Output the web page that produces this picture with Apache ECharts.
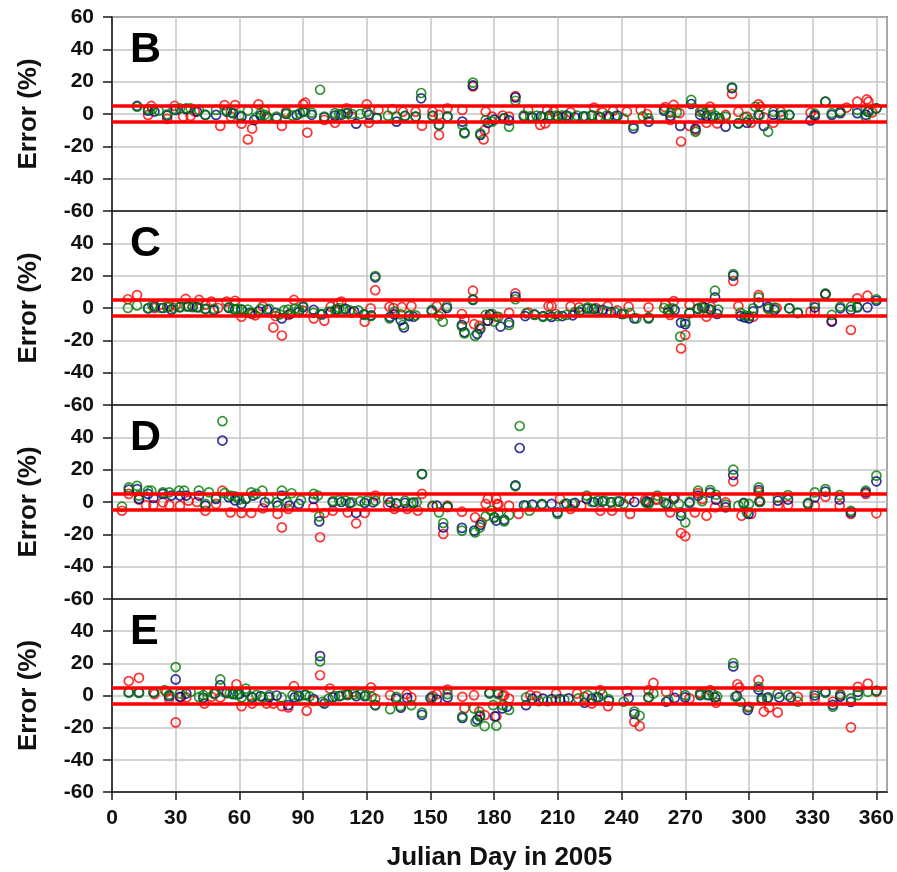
<!DOCTYPE html>
<html>
<head>
<meta charset="utf-8">
<script src="https://cdn.jsdelivr.net/npm/echarts@6/dist/echarts.min.js"></script>
<style>
  html, body { margin: 0; padding: 0; background: #fff; }
  #chart { width: 897px; height: 872px; }
</style>
</head>
<body>
<div id="chart"></div>
<script>
// Relative error (%) per Julian day, three comparison series per panel.
const panelLetters = ['B', 'C', 'D', 'E'];
const xTickStep = 30;
const yTicks = [-60, -40, -20, 0, 20, 40, 60];
const toleranceBand = [5, -5];

// ---- Panel B ----
const bRed = [[17,-0.6],[18.5,5],[26,-3],[29.5,5],[33.5,-1.6],[37,-1.2],[39,1.5],[51,-7.4],[53,5.5],[56,-1.6],[58,5.5],[61,-6],[64,-15.7],[66,-9],[69,6],[72,2],[80,-7.4],[82,1.5],[90,6],[91,7],[92,-11.5],[100,-3.7],[105,-5.4],[110.5,3.5],[113,-1.6],[120,6],[121,-5.4],[125.5,2.5],[132,3],[137,1.4],[143,1.4],[146,-7.2],[151,1.4],[154,-0.6],[154,-13],[158,3.5],[165,2.5],[170,17],[175,-15.7],[176,1.4],[175.5,-10],[179,-1.6],
  [184,-1],[187,-1.6],[190,11],[196,2.5],[201.7,-6.8],[204,-5.8],[205,2.5],[208,1.5],[212,-2],[216,1],[227,4],[231,1],[236,2],[242.5,1.4],[249,2.5],[252,0],[260.5,4.3],[263,-3.7],[264.5,5.6],[267.3,0.5],[268,-17],[272,-7.4],[274.8,-10],[278,2],[281.7,4.6],[280,-5.4],[285,-5.8],[289,-0.6],[292,12.4],[295,1.4],[299,-1.6],[301,-5.4],[304.5,6],[305.3,4.5],[307,-2],[311.5,-5.4],[315,1.4],[329,0.8],[331,-1.6],[343,1.4],[346,4],[351,7.6],[355.5,9],[356.3,7.6],[358,1]];
const bBlue = [[11.8,5],[17,2],[20,1.5],[26,-1],[30,2.5],[35,3],[40,1.5],[44,-0.6],[49,-0.6],[54,1.5],[57,0.5],[61,-1.5],[67,-3.7],[70,-1],[73,-2],[77.5,-2.7],[82,0],[87,-0.6],[90,1.5],[94,-0.5],[100,-2],[105,-1],[108,-0.5],[111,0.5],[115,-6],[121,-0.5],[124.7,-2.5],[134,-4.7],[138,-1.2],[143,-1.6],[145.6,9.7],[151,-1.2],[154,-6.8],[158,-1.6],[165,-4.7],[166,-11.5],[170,17.7],[173.5,-13],[177,-5.5],[180,-3.5],
  [184.7,-2.7],[187,-4],[190,10.3],[194,-1.5],[198,-2],[202,-1.5],[206,-1],[210,-1.5],[214,-1],[218,-2],[222,-1.5],[226,-1],[230,-2],[234,-1.5],[238,-1],[245.6,-8.9],[252.7,-4.7],[260,2],[263,-1.2],[267.6,-7.4],[272.8,6.2],[274.8,-9],[277,-0.5],[280,-1.2],[283,-2],[286,-2.5],[289,-7.8],[292,16],[295,-5.8],[299,-5.4],[304.5,-0.6],[307,-7.4],[311.5,-0.5],[315,-1],[319,-0.6],[329,-4],[331,-0.8],[336,7.6],[339,-0.6],[343,0.5],[351,0.5],[355,-0.5],[356,1.4],[360,3.5]];
const bGreen = [[11.8,4.5],[17,3],[19,3],[22,2],[26,-0.2],[29,3],[32,3.5],[35,3.5],[37,3.5],[41,2.5],[44,-0.6],[49,2.5],[54,2],[56,1],[60,-1],[64,2],[68,-2],[70,0.5],[72,-0.5],[73,-1.6],[77.5,-1.6],[82,0.5],[85,-1],[88.5,0.5],[91,1.5],[94,0.8],[98,15],[100,-1.6],[105,0.5],[107,0],[110,0.5],[113,0],[117,0],[120,1.3],[124.7,-2.7],[130,-1],[134,-1.6],[138,-1.2],[143,-1.6],[145.6,13],[151,-1.2],[154,-6.8],[158,-1.6],[165,-6.8],[166,-12],[170,19.4],[173.5,-12],[176,-3.7],[179,-4.7],
  [184.7,-2.7],[187,-7.8],[190,8.2],[194,-0.8],[197,-1.5],[200,-1],[203,-2],[206,-1.5],[209,-1],[212,-0.8],[215,-1.5],[219,-1],[223,-1.5],[226,-0.8],[229,-1.5],[233,-1],[237,-1.5],[241,-3],[245.6,-7.4],[250,-1.5],[252.7,-2.7],[260,3],[263,0.8],[266,1],[272.8,8.7],[274.8,-11],[277,1.5],[279,0.5],[282,2],[284,-1],[286,-2.7],[289,-1.6],[292,16.5],[295,-5.8],[298,-2],[300,-3.7],[303,4.5],[305,-0.8],[309,-11],[311.5,1.4],[316,-0.6],[319,-0.6],[331,0.2],[336,7.6],[339,0.5],[343,1.4],[351,2.5],[355,-2],[356.5,1.4],[360,3.5]];

// ---- Panel C ----
const cRed = [[7.5,5.4],[11.8,8],[20,0],[23,2],[27,1],[30,1.5],[34.7,5.6],[38,1],[41,5],[44,2],[46.8,4],[50,0],[54,4],[58,4.5],[61,-5.4],[66,-3.7],[67.5,-4.5],[71,1],[76,-12],[77,-5],[80,-17],[83,-4.3],[85.7,5],[90,-1.6],[95,-6.4],[100,-7.8],[103,0.8],[106.6,3],[108,4],[113,-2.8],[119,-8.5],[121.8,-0.2],[124,11],[130.7,0.8],[132.5,0],[136.5,0.5],[141,1.2],[153,1.2],[155,-3.7],[164.8,-3.7],[166,-7],[170,10.7],[170.6,-10],[173,-11],[177,-7.8],
  [178,-4.3],[181,-5.4],[187,-3],[190,9],[196,-2.8],[205.6,1.2],[207,1.2],[209,-3.7],[216,1],[220,0.4],[228,0],[233.5,1.2],[238,-1.5],[243.3,0.8],[252.7,0.4],[260.5,2],[262.9,-4.3],[264.6,4.3],[268,-25],[270,-16.7],[272,2],[278,1],[280,-5.4],[282,0.8],[292.6,16.7],[295,1.2],[302,-5.4],[304.6,8],[309,-0.2],[313,0],[329,-2.3],[331,-2.3],[336,8.5],[339,-8],[348,-13.6],[351,6],[355.8,7.6]];
const cBlue = [[17,-0.3],[20,1],[24,0],[28,-1],[32,0.5],[36,1],[40,0.5],[44,-0.5],[48,-1.5],[55,0],[58,-1],[61,-1],[65,-3],[69,-2],[73,-1],[77,-3],[80,-6.4],[84,-3.5],[88,-2.5],[90,0.5],[95,-1.2],[99,-4],[103,-2.5],[106,-1],[110,-0.5],[114,-2],[118.6,-4],[122,-4.5],[124,19],[131,-5.5],[133,-4],[136,-7.5],[137.5,-12],[140,-5],[142,-5.4],[150.6,-2],[157.7,0],[164.8,-10.5],[166,-15],[170,5],[172,-16],[173.4,-13],[177,-7.8],
  [178,-4],[183,-11.5],[187,-9],[190,7],[194.6,-5],[199,-4],[203,-5],[207,-5.5],[212,-5],[217,-4.5],[220,-2.5],[224,-0.4],[227,-0.6],[231,-1.2],[235,-2.5],[240,-3.7],[246,-6.4],[252.7,-6.4],[262,-2.5],[265,-1.2],[268,-9],[270,-10],[272,-3.2],[276,-0.6],[279,0.4],[282,-1.2],[284,6.6],[285,-3.7],[292.6,20],[296,-5],[298,-5.8],[300,-6.4],[302,-2],[304.6,3.3],[309,0.8],[312,-1.2],[319,-0.2],[323,-3],[331,0.4],[336,8.5],[339,-8.5],[343,-0.2],[348,-1.2],[351,0.4],[355.8,0.4],[360,4.5]];
const cGreen = [[7.5,0],[11.8,1.6],[17,0],[19,1.5],[23,0],[26,0.5],[29,0],[32,0.5],[35,1],[38,0.5],[41,0.3],[44,-0.8],[48,-0.5],[55,0.5],[57,-0.5],[59,-0.5],[61,-1],[64,-1],[66,-3],[70,-0.5],[74,-0.5],[79,-4],[81,-1.5],[83,-1],[86,-0.5],[88,-1],[90,1.2],[95,-3],[98,-3.7],[102,-2.3],[105,-1.2],[107,0],[109,-1],[112,-1.5],[116,-1.5],[119,-4.3],[122,-5],[124,19.8],[130.7,-6.4],[133,-2.3],[136,-4],[137,-10.5],[140,-4.5],[143,-4.5],[150.6,-1.2],[154,-5],[155.8,-8.5],[157.7,1.2],[164.8,-11.5],[166,-15.7],[170,5.4],[171,-17.3],[173.4,-12.4],[176,-4.3],
  [179,-3.7],[180,-8.5],[182,-5.5],[187,-10.5],[190,5.4],[195,-3.3],[199,-4.3],[203,-5.5],[206,-4.5],[210,-5],[214,-4.3],[218,-2.5],[221,-1.2],[224,0.4],[226,-0.5],[229,-1.2],[233,-2],[237,-2.5],[241,-3.7],[244,-3.2],[247,-6.4],[252.7,-5.8],[260,0],[262,-1],[264,-0.2],[267.6,-17.7],[270,-8.5],[272,-3],[276,-0.2],[278,0],[281,-0.5],[284,10.7],[285.5,-1],[292.6,21],[296,-3],[298,-4.5],[300,-5],[302,-0.2],[304.6,6.6],[309,-0.5],[312,0.2],[319,-0.2],[323,-3],[331,2.5],[336,9],[339,-4.3],[343,0.8],[348,0.8],[351,0.8],[360,5.4]];

// ---- Panel D ----
const dRed = [[4.7,-5.4],[7.9,5],[12.7,1.5],[16,-1.9],[19.5,-1.9],[24,-0.2],[27,-1.9],[32,-2.3],[36,0.8],[40,0],[44,-5.4],[49,-1.2],[52,7],[55.8,-6.4],[61,-6.8],[65.6,-6.8],[71,-3.9],[78,-7.4],[80,-15.7],[83,-4.3],[94.8,-3.3],[98,-21.8],[100,-6.8],[104,-5.4],[111,-6.4],[115,-13.2],[119,-6.8],[124,4],[130,-1.9],[133,-4.3],[139,-4.3],[144,-5.4],[146,5],[151,-2.7],[156,-19.8],[158,-2.3],[164.8,-6],[171,-9.5],[174,-12.6],[176,-1.2],[177,2],[182,-1.6],
  [181,1.9],[181.5,-1.2],[187,-2.3],[191.5,-7.4],[211,1.9],[216,-4.3],[221,-2.3],[230,-5.4],[235.5,-5.4],[244,-7.4],[243.6,1.9],[251,1],[256,1.5],[257,1.5],[262.9,-6.4],[265,2.9],[268,-19.2],[270,-21.2],[274.5,-6.4],[276,5.5],[280,-8.5],[278,1.9],[284,-3.3],[289,-0.2],[292.6,12.8],[296.5,-8.5],[301,-7.4],[304.6,6],[305,0.8],[313.6,-2.3],[318.4,-1.9],[331,-2.3],[336,3.3],[342.7,-2.3],[348,-7.4],[355,5],[360,-7]];
const dBlue = [[7.9,7.6],[11.8,8],[12.7,1.9],[17,5],[19.5,2.5],[24,5],[28,4],[32,4],[35,4],[41,4],[44,-2.3],[49,1.9],[52,38],[55,3],[58,1],[61,-1.2],[63,1.9],[66.5,4],[72,-0.2],[78,-2.3],[80,4],[83.5,-2.3],[88,-1.2],[95,1.9],[97.6,-12],[104,-0.2],[108,0],[112,-0.6],[115,-6.8],[119,-0.6],[123,-0.2],[131,-0.2],[134,-0.8],[138,-0.6],[142,-0.4],[146,17.3],[153,-2.3],[156,-15.7],[158,-3],[164.8,-16],[170.6,-17.7],[173.5,-14.2],[181,-11.5],
  [180,-9.5],[184.7,-11],[190,10.3],[192,33.4],[194,-2],[198,-1.6],[202.5,-1.6],[207,-1.2],[209.8,-6.4],[214,-1],[218,-0.6],[223.6,1.9],[227,0],[231,0.4],[235,-0.2],[239,0.4],[246,0],[251.6,0.2],[252.7,-0.2],[261,-1.2],[264.5,1.9],[268,-8.5],[272,-0.6],[276,3.9],[281.7,5.8],[284.5,1.4],[289,-3.3],[292.6,16.7],[297.5,-0.6],[299.8,-7.4],[304.6,7.4],[305,0],[313.6,0.8],[318.4,1.5],[327.8,-1.2],[331,2.9],[336,6.4],[342.7,1.5],[348,-6.4],[355,6],[360,12.8]];
const dGreen = [[4.7,-2.9],[7.9,9],[11.8,10],[12.7,3.9],[17,7],[18.5,7],[24,6],[27,6],[31.6,7],[34,7],[40.9,7],[44,-1.2],[45.7,6],[49,3],[52,50],[53,5.5],[56,4],[58,3.5],[60,1.5],[63,1.9],[65.6,6],[68,5],[70.8,7],[74,2],[77.5,-0.2],[80,7],[82.5,-0.2],[84.6,5.4],[89,1.2],[95,5],[97,4],[97.6,-8.9],[104,0.6],[107,1.2],[110,0.8],[113,-0.2],[117,0.6],[120,0.8],[124,0.8],[130,1.9],[134,-1.2],[138,0.8],[141,-0.6],[143.5,-0.2],[146,17.3],[151,-2.3],[154,-6.4],[156,-13],[158,-3],[164.8,-17.7],[171,-18.8],[173.3,-15.7],[176,-8.9],[178.5,-5.4],
  [180,-9.5],[182,-7.4],[184.7,-12],[187,-8],[190,9.7],[192,47],[195,-2.3],[196.6,-5.4],[202.5,-1.2],[209.8,-7.4],[213,-1.5],[217,-1],[223.6,4],[226,0],[229,1],[232,0.8],[235,0],[238,0.4],[241,-1.2],[251.6,-0.6],[252.7,-1.2],[256.8,4],[260,-0.2],[262,-1.2],[267,-1.2],[268,-6.4],[270,-12.6],[272,0.2],[276,7],[278,0.5],[281.7,7.4],[284.5,4.5],[289,-1.6],[292.6,20],[295,-2.3],[297.5,-1.2],[299,-6.4],[300,-1.2],[304.6,9],[305.3,0.2],[313.6,2.9],[318.4,4.3],[327.8,-0.6],[331,6],[336,8],[342.7,4.3],[348,-5.4],[355,7],[360,16.3]];

// ---- Panel E ----
const eRed = [[7.9,9],[12.7,11],[20,0.8],[25.6,2.3],[26.9,-1.9],[30,-16.7],[32.5,-1.2],[35,-1.2],[43.5,-5],[46.9,-0.8],[51,-1.2],[58.6,7],[61,-6.6],[66,-5],[72.8,-5],[76,-5],[80,-6.6],[83,-7.4],[85.7,5.8],[91.7,-9.5],[95,-3.3],[98,12.6],[102.6,4.3],[110.5,1.2],[113.6,2.3],[122,5],[124,-1.9],[131,0.2],[138.8,0.8],[141,-1.2],[151,-0.4],[153,0.8],[158,3.7],[165,-0.8],[166,-8],[170.5,0.2],[173,-10],[175.5,-12.2],[181,-13],[184,-0.4],
  [184.7,0.2],[187,-1.9],[197,0.2],[200,-0.4],[209.2,1.2],[219,1.2],[222.5,-0.8],[226,-5],[230,3.3],[233.6,-6.6],[242.6,2.7],[246,-16.3],[248.5,-19],[252.7,3.3],[255,7.8],[261,2.3],[266,2.3],[272,-1.8],[277,1.6],[281.7,3.3],[284.5,-4.5],[294.5,7],[295.5,5],[300,-7],[304.5,9.5],[307,-10],[309.5,-7.4],[313.5,-10.5],[323,-0.8],[331,-1.8],[339.5,-3.9],[343,0.2],[348,-19.8],[351.3,5.4],[356,7.4],[360,2.3]];
const eBlue = [[7.9,1.9],[12.7,1.9],[19.6,1.9],[26.9,-0.4],[30,10],[32,-0.8],[35,1.2],[43,-1.4],[48.5,1.2],[51,6.4],[54,1.5],[57,0.8],[60,1],[63,2.3],[66,-1.2],[70,-0.4],[74,-1],[77.5,0],[83,-6],[86,-1.2],[88,0],[91,0.4],[95,-2.3],[98,24.5],[100,-5],[104,-1.2],[107,-0.4],[111,0.4],[115,-0.4],[119,-0.4],[124,-6],[133.8,-1.9],[136,-7.6],[139,-1.5],[146,-12],[150,-1.5],[153,-2.5],[158,-1.2],[165,-14],[172,-15],[173.2,-13],[177.8,1.6],
  [180.3,-13],[181.8,1.6],[183.8,-8],[186,-7],[195,-6],[198,-2],[203,-1.9],[207,-2.3],[211,-2.3],[215,-1.8],[222.5,-4.5],[226,-2],[229,-1.2],[234,-3.3],[243.3,-1.6],[246,-11.5],[252.7,-1.2],[261,-3.9],[265,-1.5],[270,-1.2],[277,0.2],[281,0.2],[284,-1.2],[292.6,18.1],[294.3,-0.4],[299.4,-9],[304.5,3.7],[306,-1.8],[309,-1.2],[314.3,-1.2],[319.7,-1.2],[331,0],[336,2.3],[339.5,-5.8],[343,-0.8],[348,-4],[351.3,2.3],[360,2.9]];
const eGreen = [[7.9,1.9],[12.7,1.6],[19.6,1.9],[24.8,3.3],[27,0.5],[30,17.7],[32,1.2],[37,2.3],[41,-1],[43,0.2],[45,2.3],[48,1],[51,10],[53,2],[55.5,1.5],[57,1.2],[59,0.5],[61,-1.2],[63,4.3],[65.6,-0.8],[68,0.4],[71,-1.2],[74,0.2],[79.9,-1.2],[85,0.2],[88,-0.8],[91,0.4],[93,-0.6],[98,21.2],[99.2,-4],[102,-2],[105,-0.4],[108,0],[111,0.4],[114,0.8],[117,0.8],[119.6,0.2],[122.3,-0.8],[124,-6],[131,-8.5],[134,-0.8],[135.8,-6.6],[141,-6],[146,-10.7],[150.6,-1.5],[158,0.8],[165,-13],[170.5,-8],[171.2,-16.3],[173.4,-12.4],[175.5,-19],[177.8,1.2],[179.5,-6],
  [181,-18.8],[181.8,0.8],[184,-6],[187,-9],[195,-1.2],[201,-3.5],[205,-3.5],[209,-2.5],[213,-2.5],[219.6,-1.8],[224,0.2],[228,-1],[231,0.8],[234,-2.3],[241,-3.9],[246,-10],[248.5,-12.6],[252.7,-1.2],[255,1.2],[262,-2.9],[270,0.2],[277,0.8],[280,0.4],[283,0.8],[285,-0.6],[292.6,20.2],[293.5,-0.8],[296,-3.9],[299.4,-7.4],[304.5,5.4],[306,-2.9],[308.5,-1.8],[313.5,1.2],[318.4,0.2],[323,-3.9],[331,1.6],[336,1.6],[339.5,-7],[343,0.8],[348,-1.8],[351.3,0.2],[356,2.3],[360,2.9]];

const panelData = [
  { red: bRed, blue: bBlue, green: bGreen },
  { red: cRed, blue: cBlue, green: cGreen },
  { red: dRed, blue: dBlue, green: dGreen },
  { red: eRed, blue: eBlue, green: eGreen }
];

// ---- Layout and styling ----
const FONT = '"Liberation Sans", Arial, Helvetica, sans-serif';
const COLORS = { red: '#ff0000', blue: '#00007f', green: '#007a00' };
const plotLeft = 112, plotRight = 10, panelTop = 17, panelHeight = 194;
const xMin = 0, xMax = 365, yMin = -60, yMax = 60;

const grids = [], xAxes = [], yAxes = [], series = [], titles = [];

panelLetters.forEach((letter, i) => {
  const isLast = i === panelLetters.length - 1;
  grids.push({
    left: plotLeft, right: plotRight,
    top: panelTop + i * panelHeight, height: panelHeight,
    show: true, borderColor: '#1a1a1a', borderWidth: 1.5,
    backgroundColor: 'transparent'
  });
  xAxes.push({
    gridIndex: i, type: 'value', min: xMin, max: xMax, interval: xTickStep,
    axisLine: { show: true, onZero: false, lineStyle: { color: '#1a1a1a', width: 1.5 } },
    axisTick: { show: isLast, length: 8, lineStyle: { color: '#1a1a1a', width: 1.5 } },
    axisLabel: {
      show: isLast, showMaxLabel: false, margin: 16,
      fontFamily: FONT, fontWeight: 'bold', fontSize: 21, color: '#111'
    },
    splitLine: { show: true, lineStyle: { color: '#c6c6c6', width: 1.5 } },
    name: isLast ? 'Julian Day in 2005' : '',
    nameLocation: 'middle', nameGap: 53,
    nameTextStyle: { fontFamily: FONT, fontWeight: 'bold', fontSize: 26, color: '#111' }
  });
  yAxes.push({
    gridIndex: i, type: 'value', min: yMin, max: yMax, interval: 20,
    axisLine: { show: true, onZero: false, lineStyle: { color: '#1a1a1a', width: 1.5 } },
    axisTick: { show: true, length: 9, lineStyle: { color: '#1a1a1a', width: 1.5 } },
    axisLabel: {
      showMaxLabel: i === 0, showMinLabel: true, margin: 18,
      fontFamily: FONT, fontWeight: 'bold', fontSize: 21, color: '#111',
      formatter: v => (yTicks.includes(v) ? String(v) : '')
    },
    splitLine: { show: true, lineStyle: { color: '#c6c6c6', width: 1.5 } },
    name: 'Error (%)', nameLocation: 'middle', nameGap: 70, nameRotate: 90,
    nameTextStyle: { fontFamily: FONT, fontWeight: 'bold', fontSize: 26, color: '#111' }
  });
  titles.push({
    text: letter, left: plotLeft + 13, top: panelTop + i * panelHeight + 7,
    textStyle: { fontFamily: FONT, fontWeight: 'bold', fontSize: 43, color: '#000' }
  });

  const d = panelData[i];
  ['red', 'blue', 'green'].forEach((key, k) => {
    const s = {
      type: 'scatter', xAxisIndex: i, yAxisIndex: i, name: letter + '-' + key,
      data: d[key], symbol: 'circle', symbolSize: 9,
      itemStyle: { color: 'rgba(0,0,0,0)', borderColor: COLORS[key], borderWidth: 1.7 },
      z: 3 + k, silent: true, animation: false
    };
    if (key === 'red') {
      // ±5 % tolerance band
      s.markLine = {
        silent: true, symbol: ['none', 'none'], label: { show: false },
        lineStyle: { color: '#ff0000', width: 3.5, type: 'solid' },
        data: toleranceBand.map(v => ({ yAxis: v })),
        z: 10, animation: false
      };
    }
    series.push(s);
  });
});

const chart = echarts.init(document.getElementById('chart'), null, { renderer: 'canvas' });
chart.setOption({
  backgroundColor: '#ffffff',
  animation: false,
  title: titles,
  grid: grids,
  xAxis: xAxes,
  yAxis: yAxes,
  series: series
});
</script>
</body>
</html>
